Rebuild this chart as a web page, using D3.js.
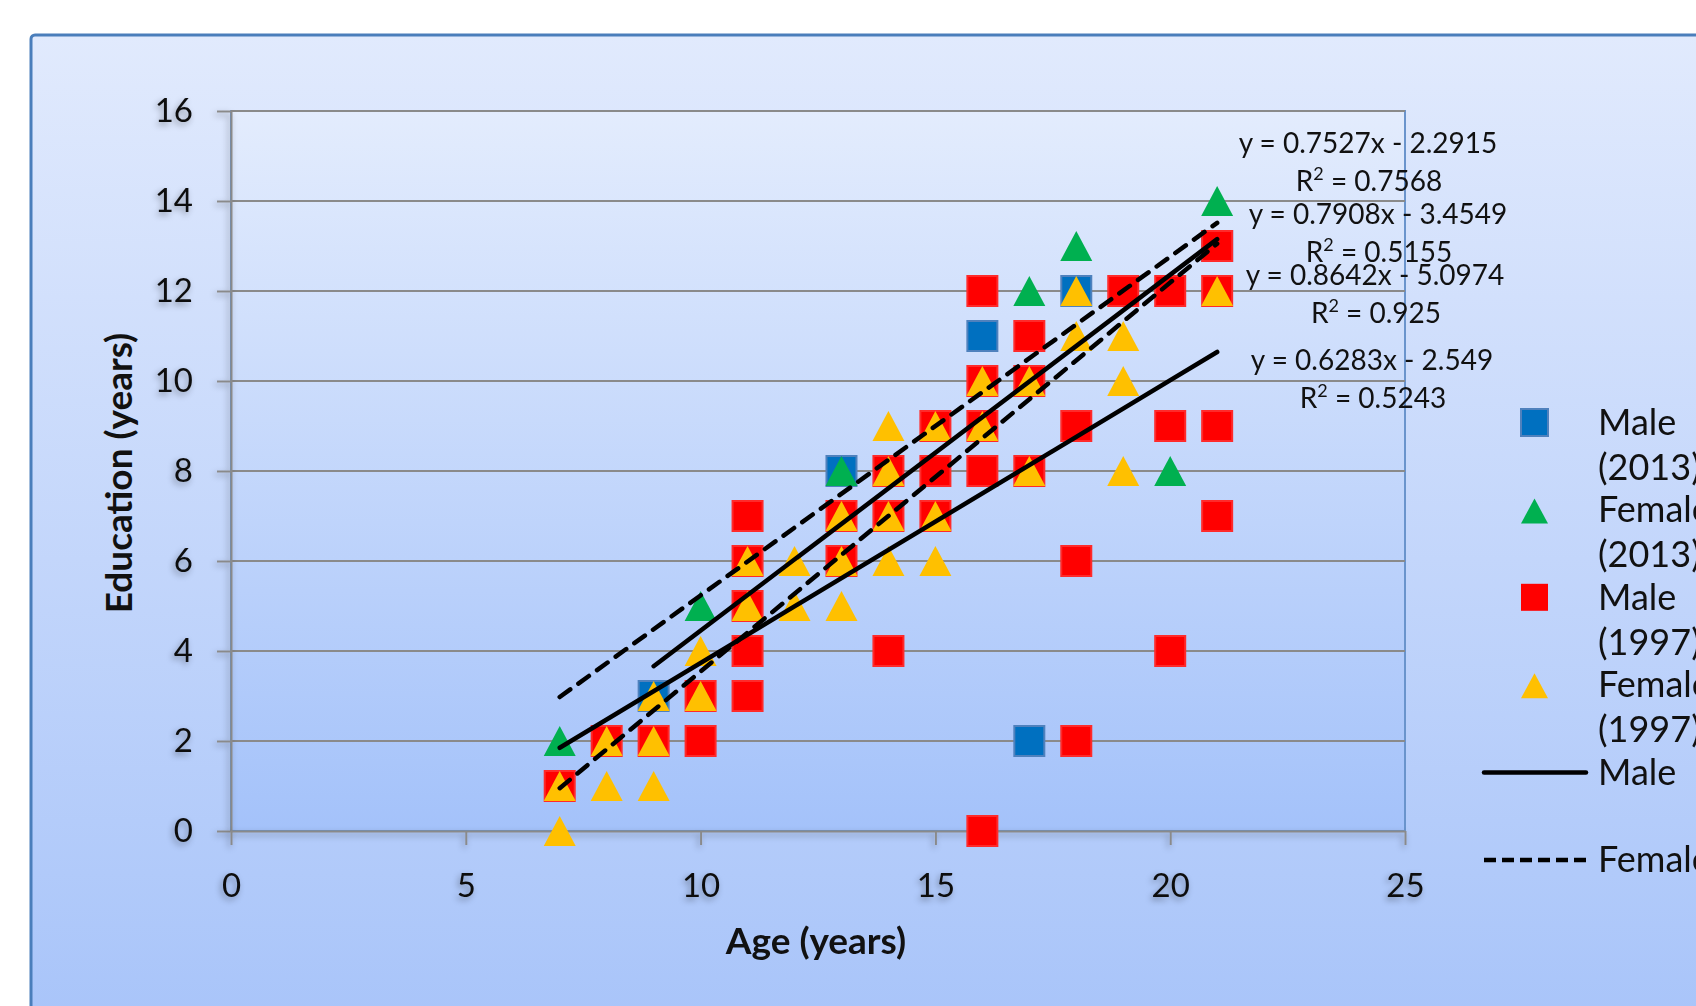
<!DOCTYPE html>
<html>
<head>
<meta charset="utf-8">
<script src="https://cdn.jsdelivr.net/npm/d3@7"></script>
<style>
body { margin: 0; background: #fff; }
svg { display: block; }
text { font-family: Lato, "Open Sans", sans-serif; fill: #111; }
</style>
</head>
<body>
<div id="chart"></div>
<script>
// values: [age, education]
var male2013 = [[9,3],[13,8],[16,11],[17,2],[18,12],[21,13]];
var female2013 = [[7,2],[10,5],[13,8],[17,12],[18,13],[20,8],[21,14]];
var male1997 = [[7,1],[8,2],[9,2],[10,3],[10,2],[11,7],[11,6],[11,5],[11,4],[11,3],
    [13,7],[13,6],[14,8],[14,7],[14,4],[15,9],[15,8],[15,7],[16,12],[16,10],[16,9],
    [16,8],[16,0],[17,11],[17,10],[17,8],[18,9],[18,6],[18,2],[19,12],[20,12],[20,9],
    [20,4],[21,13],[21,12],[21,9],[21,7]];
var female1997 = [[7,1],[7,0],[8,2],[8,1],[9,3],[9,2],[9,1],[10,4],[10,3],[11,6],[11,5],
    [12,6],[12,5],[13,7],[13,6],[13,5],[14,9],[14,8],[14,7],[14,6],[15,9],[15,7],[15,6],
    [16,10],[16,9],[17,10],[17,8],[18,12],[18,11],[19,11],[19,10],[19,8],[21,12]];

// trend lines as printed on the chart
var trendNames = ["Female (2013)", "Male (2013)", "Female (1997)", "Male (1997)"];
var trendSlope = [0.7527, 0.7908, 0.8642, 0.6283];
var trendIntercept = [-2.2915, -3.4549, -5.0974, -2.549];
var trendFrom = [7, 9, 7, 7];
var trendTo = [21, 21, 21, 21];
var trendDashed = [true, false, true, false];
var trendEq = ["y = 0.7527x - 2.2915", "y = 0.7908x - 3.4549", "y = 0.8642x - 5.0974", "y = 0.6283x - 2.549"];
var trendR2 = ["0.7568", "0.5155", "0.925", "0.5243"];

var xTicks = [0, 5, 10, 15, 20, 25];
var yTicks = [0, 2, 4, 6, 8, 10, 12, 14, 16];
var legendLines = [["Male", "(2013)"], ["Female", "(2013)"], ["Male", "(1997)"], ["Female", "(1997)"], ["Male"], ["Female"]];

function build_chart() {

    var W = 1696, H = 1006;
    var pLeft = 231, pRight = 1405, pTop = 111, pBottom = 831;

    var svg = d3.select("#chart").append("svg")
        .attr("width", W)
        .attr("height", H);

    var defs = svg.append("defs");
    var bg = defs.append("linearGradient").attr("id", "bg").attr("x1", 0).attr("y1", 0).attr("x2", 0).attr("y2", 1);
    bg.append("stop").attr("offset", 0).attr("stop-color", "#e1eafd");
    bg.append("stop").attr("offset", 1).attr("stop-color", "#a2c0f9");
    var pg = defs.append("linearGradient").attr("id", "pg").attr("x1", 0).attr("y1", 0).attr("x2", 0).attr("y2", 1);
    pg.append("stop").attr("offset", 0).attr("stop-color", "#e3ecfd");
    pg.append("stop").attr("offset", 1).attr("stop-color", "#a4c2fa");
    var sh = defs.append("filter").attr("id", "sh").attr("x", -0.1).attr("y", -0.1).attr("width", 1.2).attr("height", 1.2);
    sh.append("feDropShadow").attr("dx", -2).attr("dy", 3).attr("stdDeviation", 3)
        .attr("flood-color", "#000").attr("flood-opacity", 0.35);

    // chart area
    svg.append("rect")
        .attr("x", 31).attr("y", 35)
        .attr("width", 1800).attr("height", 1100)
        .attr("rx", 4)
        .attr("fill", "url(#bg)")
        .attr("stroke", "#4a7ebb")
        .attr("stroke-width", 3);

    var xScale = d3.scaleLinear().domain([0, 25]).range([pLeft, pRight]);
    var yScale = d3.scaleLinear().domain([0, 16]).range([pBottom, pTop]);

    // plot area
    svg.append("rect")
        .attr("x", pLeft).attr("y", pTop)
        .attr("width", pRight - pLeft).attr("height", pBottom - pTop)
        .attr("fill", "url(#pg)")
        .attr("stroke", "#6a94cc")
        .attr("stroke-width", 2);

    svg.append("g")
        .selectAll("line")
        .data(yTicks.slice(1))
        .enter()
        .append("line")
            .attr("x1", pLeft).attr("x2", pRight)
            .attr("y1", function(d){return yScale(d);})
            .attr("y2", function(d){return yScale(d);})
            .attr("stroke", "#8a8a8a")
            .attr("stroke-width", 2);

    var yAxis = svg.append("g")
        .attr("transform", "translate(" + pLeft + ",0)")
        .attr("filter", "url(#sh)")
        .call(d3.axisLeft(yScale).tickValues(yTicks).tickSize(14).tickSizeOuter(0).tickPadding(24));

    var xAxis = svg.append("g")
        .attr("transform", "translate(0," + pBottom + ")")
        .attr("filter", "url(#sh)")
        .call(d3.axisBottom(xScale).tickValues(xTicks).tickSize(14).tickSizeOuter(0).tickPadding(29));

    [xAxis, yAxis].forEach(function(a) {
        a.selectAll("path, line").attr("stroke", "#8a8a8a").attr("stroke-width", 2);
        a.selectAll("text").attr("font-size", 33).attr("font-family", "Lato").attr("fill", "#111");
    });

    function squares(data, fill, stroke) {
        svg.append("g")
            .selectAll("rect")
            .data(data)
            .enter()
            .append("rect")
                .attr("x", function(d){return xScale(d[0]) - 15;})
                .attr("y", function(d){return yScale(d[1]) - 15;})
                .attr("width", 30).attr("height", 30)
                .attr("fill", fill)
                .attr("stroke", stroke)
                .attr("stroke-width", 2);
    }

    function triangles(data, fill) {
        svg.append("g")
            .selectAll("path")
            .data(data)
            .enter()
            .append("path")
                .attr("d", function(d){
                    var cx = xScale(d[0]), cy = yScale(d[1]);
                    return "M" + (cx - 16) + "," + (cy + 15) + "L" + (cx + 16) + "," + (cy + 15) + "L" + cx + "," + (cy - 15) + "Z";
                })
                .attr("fill", fill);
    }

    squares(male2013, "#0070c0", "#4f81bd");
    triangles(female2013, "#00b050");
    squares(male1997, "#ff0000", "#ff2a2a");
    triangles(female1997, "#ffc000");

    // trend lines
    svg.append("g")
        .selectAll("line")
        .data(trendSlope)
        .enter()
        .append("line")
            .attr("x1", function(d, i){return xScale(trendFrom[i]);})
            .attr("y1", function(d, i){return yScale(d * trendFrom[i] + trendIntercept[i]);})
            .attr("x2", function(d, i){return xScale(trendTo[i]);})
            .attr("y2", function(d, i){return yScale(d * trendTo[i] + trendIntercept[i]);})
            .attr("stroke", "#000")
            .attr("stroke-width", 4.5)
            .attr("stroke-linecap", "round")
            .attr("stroke-dasharray", function(d, i){return trendDashed[i] ? "13,10" : null;});

    // equation labels
    var eqX = [1368, 1378, 1375, 1372];
    var eqY = [153, 224, 285, 370];
    var eq = svg.append("g").attr("font-size", 28).attr("text-anchor", "middle");
    trendEq.forEach(function(t, i) {
        eq.append("text").attr("x", eqX[i]).attr("y", eqY[i]).text(t);
        var r = eq.append("text").attr("x", eqX[i] + 1).attr("y", eqY[i] + 38);
        r.append("tspan").text("R");
        r.append("tspan").attr("font-size", 18).attr("dy", -11).text("2");
        r.append("tspan").attr("dy", 11).text(" = " + trendR2[i]);
    });

    // legend
    var leg = svg.append("g").attr("font-size", 36);
    var mk = [
        function(g, y){ g.append("rect").attr("x", 1521).attr("y", y - 26).attr("width", 27).attr("height", 27).attr("fill", "#0070c0").attr("stroke", "#4f81bd").attr("stroke-width", 2); },
        function(g, y){ g.append("path").attr("d", "M1521," + (y + 1) + "L1548," + (y + 1) + "L1534.5," + (y - 24) + "Z").attr("fill", "#00b050"); },
        function(g, y){ g.append("rect").attr("x", 1521).attr("y", y - 26).attr("width", 27).attr("height", 27).attr("fill", "#ff0000"); },
        function(g, y){ g.append("path").attr("d", "M1521," + (y + 1) + "L1548," + (y + 1) + "L1534.5," + (y - 24) + "Z").attr("fill", "#ffc000"); },
        function(g, y){ g.append("line").attr("x1", 1484).attr("x2", 1586).attr("y1", y - 12).attr("y2", y - 12).attr("stroke", "#000").attr("stroke-width", 4.5).attr("stroke-linecap", "round"); },
        function(g, y){ g.append("line").attr("x1", 1484).attr("x2", 1586).attr("y1", y - 12).attr("y2", y - 12).attr("stroke", "#000").attr("stroke-width", 4.5).attr("stroke-dasharray", "12,6"); }
    ];
    legendLines.forEach(function(lines, i) {
        var y = 435 + i * 87.4;
        mk[i](leg, y);
        lines.forEach(function(s, j) {
            leg.append("text").attr("x", 1598).attr("y", y + j * 45).text(s);
        });
    });

    // axis titles
    svg.append("text")
        .attr("x", 816).attr("y", 954)
        .attr("text-anchor", "middle")
        .attr("font-size", 37)
        .attr("font-weight", "bold")
        .text("Age (years)");

    svg.append("text")
        .attr("transform", "translate(132,473) rotate(-90)")
        .attr("text-anchor", "middle")
        .attr("font-size", 37)
        .attr("font-weight", "bold")
        .text("Education (years)");
}
build_chart();
</script>
</body>
</html>
